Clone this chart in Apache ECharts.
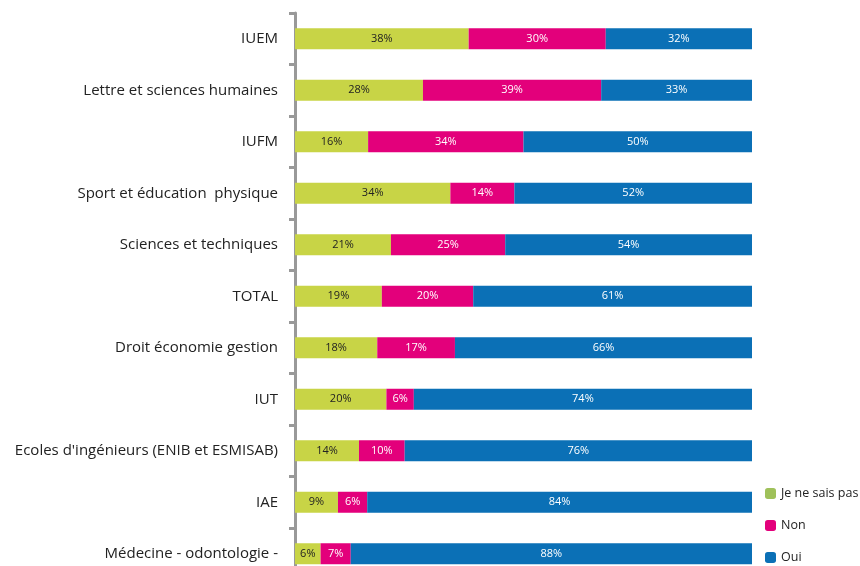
<!DOCTYPE html>
<html><head><meta charset="utf-8">
<script src="https://cdn.jsdelivr.net/npm/echarts@6/dist/echarts.min.js"></script>
<style>html,body{margin:0;padding:0;background:#fff;overflow:hidden}#w{width:860px;height:566px;overflow:hidden;position:relative}#c{width:860px;height:600px}</style>
</head><body><div id="w"><div id="c"></div></div>
<script>
const categories = ["IUEM","Lettre et sciences humaines","IUFM","Sport et éducation  physique","Sciences et techniques","TOTAL","Droit économie gestion","IUT","Ecoles d'ingénieurs (ENIB et ESMISAB)","IAE","Médecine - odontologie -"];
const jeNeSaisPas = [38,28,16,34,21,19,18,20,14,9.4,5.6];
const non = [30,39,34,14,25,20,17,6,10,6.4,6.6];
const oui = [32,33,50,52,54,61,66,74,76,84.2,87.8];
const seriesNames = ["Je ne sais pas","Non","Oui"];
const barColors = ["#c8d446","#e3007b","#0b70b6"];
const legendColors = ["#9fc15a","#e3007b","#0b70b6"];
const labelColors = ["#222222","#ffffff","#ffffff"];
const FONT = "Open Sans";
const chart = echarts.init(document.getElementById('c'));
const dataSets = [jeNeSaisPas, non, oui];
chart.setOption({
  animation:false,
  textStyle:{fontFamily:FONT},
  grid:{left:295,width:457,top:13,height:566.5,containLabel:false},
  xAxis:{type:'value',min:0,max:100,show:false},
  yAxis:{type:'category',inverse:true,data:categories,offset:1,
    axisLine:{lineStyle:{color:'#999',width:3}},
    axisTick:{show:true,length:6,lineStyle:{color:'#999',width:3}},
    axisLabel:{color:'#222',fontSize:15,margin:16,fontFamily:FONT}},
  legend:{orient:'vertical',left:765,top:487,padding:0,itemWidth:11,itemHeight:11,itemGap:19,
    textStyle:{fontSize:12.5,lineHeight:12,color:'#222',fontFamily:FONT},
    data:seriesNames.map((n,i)=>({name:n,itemStyle:{color:legendColors[i]}}))},
  series:dataSets.map((d,i)=>({
    name:seriesNames[i],type:'bar',stack:'t',barWidth:21,data:d,
    itemStyle:{color:barColors[i]},
    label:{show:true,position:'inside',fontSize:11,color:labelColors[i],fontFamily:FONT,
      formatter:p=>Math.round(p.value)+'%'}
  }))
});
</script></body></html>
